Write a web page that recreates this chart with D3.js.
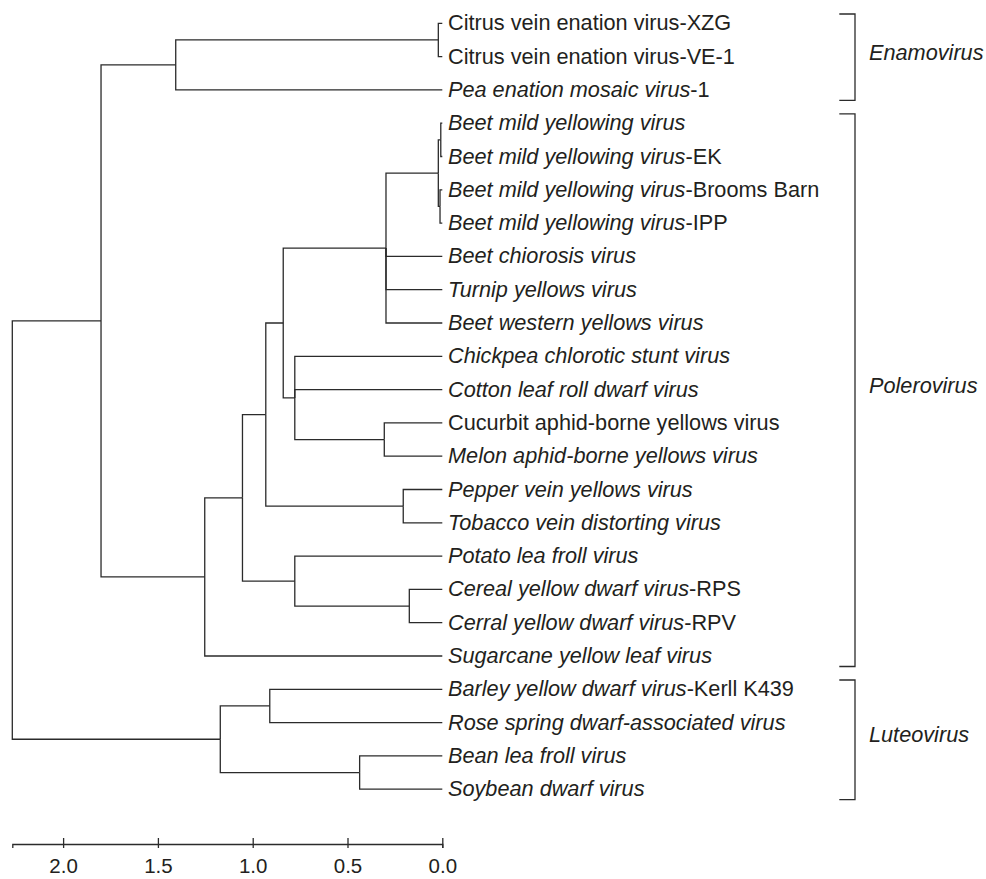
<!DOCTYPE html>
<html>
<head>
  <meta charset="utf-8">
  <title>Luteoviridae dendrogram</title>
  <script src="https://d3js.org/d3.v7.min.js"></script>
  <style>
    body { margin: 0; background: #fff; }
    svg { display: block; font-family: "Liberation Sans", Arial, sans-serif; }
    .link { fill: none; stroke: #2b2b2b; stroke-width: 1.3; }
    .leaf text, .group text { fill: #231f20; }
  </style>
</head>
<body>
  <svg width="986" height="879"></svg>

  <script>
    // internal nodes: [id, parent, height]
    const clades = [
      ["root", "", 2.268],
      ["enaPol", "root", 1.80],
      ["ena", "enaPol", 1.406],
      ["cven", "ena", 0.021],
      ["pol", "enaPol", 1.253],
      ["pol1", "pol", 1.054],
      ["pol2", "pol1", 0.931],
      ["pol3", "pol2", 0.839],
      ["beet", "pol3", 0.297],
      ["bmyv", "beet", 0.021],
      ["bmyv1", "bmyv", 0.008],
      ["bmyv2", "bmyv", 0.012],
      ["chick", "pol3", 0.778],
      ["cucmel", "chick", 0.306],
      ["peptob", "pol2", 0.206],
      ["potcer", "pol1", 0.778],
      ["cer", "potcer", 0.174],
      ["lut", "root", 1.171],
      ["barrose", "lut", 0.910],
      ["beansoy", "lut", 0.436]
    ];

    // leaves in drawing order: [parent, italic part, plain part]
    const leaves = [
      ["cven", "", "Citrus vein enation virus-XZG"],
      ["cven", "", "Citrus vein enation virus-VE-1"],
      ["ena", "Pea enation mosaic virus", "-1"],
      ["bmyv1", "Beet mild yellowing virus", ""],
      ["bmyv1", "Beet mild yellowing virus", "-EK"],
      ["bmyv2", "Beet mild yellowing virus", "-Brooms Barn"],
      ["bmyv2", "Beet mild yellowing virus", "-IPP"],
      ["beet", "Beet chiorosis virus", ""],
      ["beet", "Turnip yellows virus", ""],
      ["beet", "Beet western yellows virus", ""],
      ["chick", "Chickpea chlorotic stunt virus", ""],
      ["chick", "Cotton leaf roll dwarf virus", ""],
      ["cucmel", "", "Cucurbit aphid-borne yellows virus"],
      ["cucmel", "Melon aphid-borne yellows virus", ""],
      ["peptob", "Pepper vein yellows virus", ""],
      ["peptob", "Tobacco vein distorting virus", ""],
      ["potcer", "Potato lea froll virus", ""],
      ["cer", "Cereal yellow dwarf virus", "-RPS"],
      ["cer", "Cerral yellow dwarf virus", "-RPV"],
      ["pol", "Sugarcane yellow leaf virus", ""],
      ["barrose", "Barley yellow dwarf virus", "-Kerll K439"],
      ["barrose", "Rose spring dwarf-associated virus", ""],
      ["beansoy", "Bean lea froll virus", ""],
      ["beansoy", "Soybean dwarf virus", ""]
    ];

    // genus brackets: [name, first leaf, last leaf]
    const genera = [
      ["Enamovirus", 0, 2],
      ["Polerovirus", 3, 19],
      ["Luteovirus", 20, 23]
    ];

    const scaleTicks = [0, 0.5, 1.0, 1.5, 2.0];

    const svg = d3.select("svg");

    const x = d3.scaleLinear().domain([0, 2.268]).range([442.3, 12.3]);
    const y = d3.scaleLinear().domain([0, leaves.length - 1]).range([23.3, 789.2]);

    // table for stratify
    const rows = clades.map(d => ({ id: d[0], parentId: d[1] || null, h: d[2] }));
    leaves.forEach((d, i) => rows.push({ id: "leaf" + i, parentId: d[0], h: 0, idx: i, it: d[1], pl: d[2] }));

    const root = d3.stratify().id(d => d.id).parentId(d => d.parentId)(rows);

    // leaves on their row, a clade halfway between its outer children
    root.eachAfter(n => {
      if (!n.children) {
        n.py = y(n.data.idx);
      } else {
        n.children.sort((a, b) => a.py - b.py);
        n.py = (n.children[0].py + n.children[n.children.length - 1].py) / 2;
      }
      n.px = x(n.data.h);
    });

    // elbow links
    svg.append("g")
      .selectAll("path")
      .data(root.links())
      .join("path")
      .attr("class", "link")
      .attr("d", l => `M${l.source.px},${l.source.py}V${l.target.py}H${l.target.px}`);

    // leaf labels
    const lab = svg.append("g").attr("class", "leaf")
      .selectAll("text")
      .data(root.leaves())
      .join("text")
      .attr("x", d => d.px + 5.7)
      .attr("y", d => d.py + 7)
      .attr("font-size", 21.7);
    lab.append("tspan").attr("font-style", "italic").text(d => d.data.it);
    lab.append("tspan").text(d => d.data.pl);

    // genus brackets
    const g = svg.append("g").attr("class", "group")
      .selectAll("g")
      .data(genera)
      .join("g");
    g.append("path")
      .attr("class", "link")
      .attr("d", d => `M839.3,${y(d[1]) - 9.3}H855V${y(d[2]) + 10.5}H839.3`);
    g.append("text")
      .attr("x", 869)
      .attr("y", d => (y(d[1]) + y(d[2])) / 2 + 3)
      .attr("font-size", 21.7)
      .attr("font-style", "italic")
      .text(d => d[0]);

    // distance scale
    const axis = svg.append("g")
      .attr("transform", "translate(0,844)")
      .call(d3.axisBottom(x).tickValues(scaleTicks).tickFormat(d3.format(".1f")).tickSizeOuter(0).tickSize(4).tickPadding(10));
    axis.select(".domain").attr("stroke", "#2b2b2b").attr("stroke-width", 1.3);
    axis.selectAll(".tick line").attr("y1", -6).attr("y2", 4).attr("stroke", "#2b2b2b").attr("stroke-width", 1.3);
    axis.selectAll(".tick text")
      .attr("font-size", 20.5)
      .attr("font-family", "'Liberation Sans', Arial, sans-serif")
      .attr("fill", "#231f20");
  </script>
</body>
</html>
